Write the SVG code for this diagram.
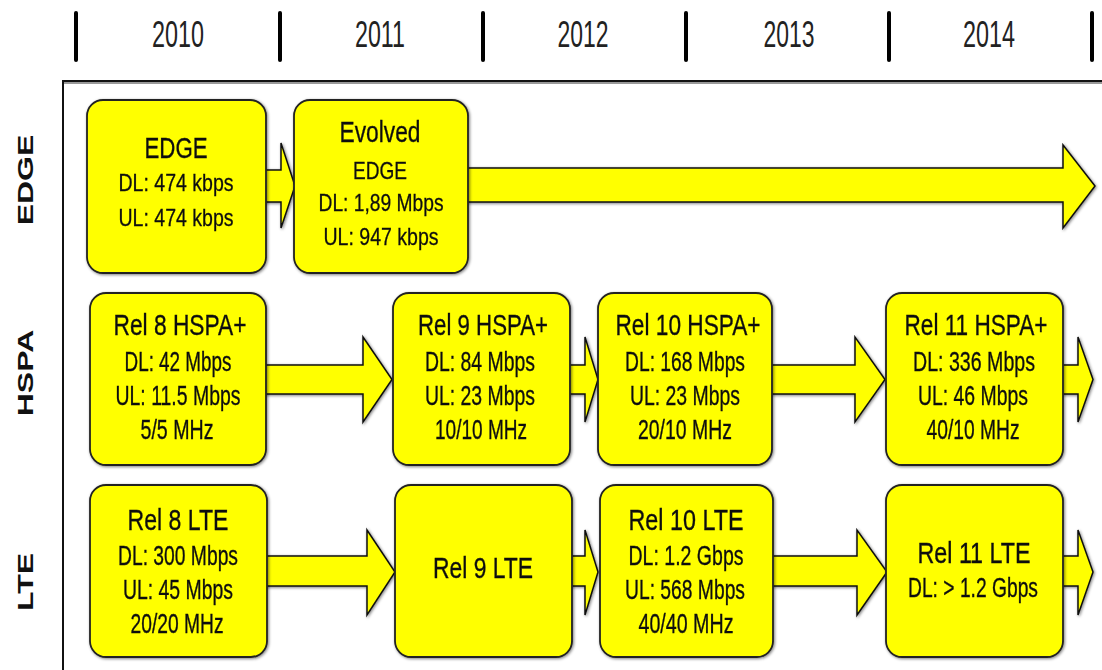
<svg xmlns="http://www.w3.org/2000/svg" width="1102" height="670" viewBox="0 0 1102 670">
<style>
.yr{font-family:"Liberation Sans",Arial,sans-serif;font-size:37px;fill:#222;text-anchor:middle}
.row{font-family:"Liberation Sans",Arial,sans-serif;font-size:32px;font-weight:bold;fill:#111;text-anchor:middle}
.tt{font-family:"Liberation Sans",Arial,sans-serif;font-size:30px;fill:#111;stroke:#111;stroke-width:0.35;text-anchor:middle}
.td{font-family:"Liberation Sans",Arial,sans-serif;font-size:27px;fill:#111;stroke:#111;stroke-width:0.35;text-anchor:middle}
.te{font-family:"Liberation Sans",Arial,sans-serif;font-size:24px;fill:#111;stroke:#111;stroke-width:0.3;text-anchor:middle}
.box{fill:#ffff00;stroke:#222;stroke-width:1.8}
.arr{fill:#ffff00;stroke:#111;stroke-width:1.5;stroke-linejoin:miter}
.tick{stroke:#000;stroke-width:4;stroke-linecap:round}
</style>
<defs>
<filter id="sh" x="-10%" y="-10%" width="120%" height="120%">
<feGaussianBlur in="SourceAlpha" stdDeviation="1.5"/>
<feOffset dx="1" dy="1" result="b"/>
<feComponentTransfer><feFuncA type="linear" slope="0.5"/></feComponentTransfer>
<feMerge><feMergeNode/><feMergeNode in="SourceGraphic"/></feMerge>
</filter>
</defs>
<rect width="1102" height="670" fill="#fff"/>
<g id="timeline">
<line class="tick" x1="76" y1="13" x2="76" y2="60"/>
<line class="tick" x1="280" y1="13" x2="280" y2="60"/>
<line class="tick" x1="483" y1="13" x2="483" y2="60"/>
<line class="tick" x1="686" y1="13" x2="686" y2="60"/>
<line class="tick" x1="889" y1="13" x2="889" y2="60"/>
<line class="tick" x1="1092" y1="13" x2="1092" y2="60"/>
<text class="yr" x="178" y="47" textLength="52" lengthAdjust="spacingAndGlyphs">2010</text>
<text class="yr" x="380" y="47" textLength="50" lengthAdjust="spacingAndGlyphs">2011</text>
<text class="yr" x="583" y="47" textLength="51" lengthAdjust="spacingAndGlyphs">2012</text>
<text class="yr" x="789" y="47" textLength="51" lengthAdjust="spacingAndGlyphs">2013</text>
<text class="yr" x="989" y="47" textLength="52" lengthAdjust="spacingAndGlyphs">2014</text>
</g>
<g id="frame">
<line x1="62" y1="83" x2="1102" y2="83" stroke="#999" stroke-width="2"/>
<line x1="62" y1="81" x2="1102" y2="81" stroke="#111" stroke-width="2"/>
<line x1="63" y1="80" x2="63" y2="670" stroke="#111" stroke-width="2"/>
</g>
<g id="row-labels">
<text class="row" transform="translate(33,180) scale(0.7,1) rotate(-90)">EDGE</text>
<text class="row" transform="translate(33,373) scale(0.7,1) rotate(-90)">HSPA</text>
<text class="row" transform="translate(33,582) scale(0.7,1) rotate(-90)">LTE</text>
</g>
<g id="connectors" filter="url(#sh)">
<polygon class="arr" points="262,170 281,170 281,143 295,186 281,228 281,202 262,202"/>
<polygon class="arr" points="464,168 1063,168 1063,145 1095,186 1063,228 1063,202 464,202"/>
<polygon class="arr" points="262,365 363,365 363,337 392,379.5 363,422 363,394 262,394"/>
<polygon class="arr" points="566,365 585,365 585,337 598,379.5 585,422 585,394 566,394"/>
<polygon class="arr" points="768,365 855,365 855,337 885,379.5 855,422 855,394 768,394"/>
<polygon class="arr" points="1059,365 1078,365 1078,337 1093,379.5 1078,422 1078,394 1059,394"/>
<polygon class="arr" points="263,556 367,556 367,530 395,572 367,615 367,586 263,586"/>
<polygon class="arr" points="568,556 585,556 585,530 598,572 585,615 585,586 568,586"/>
<polygon class="arr" points="769,556 857,556 857,530 887,572 857,615 857,586 769,586"/>
<polygon class="arr" points="1059,556 1078,556 1078,530 1093,572 1078,615 1078,586 1059,586"/>
</g>
<g id="edge" filter="url(#sh)">
<rect class="box" x="87" y="100" width="179" height="173" rx="16"/>
<text class="tt" x="176" y="158" textLength="63" lengthAdjust="spacingAndGlyphs">EDGE</text>
<text class="te" x="176" y="191" textLength="115" lengthAdjust="spacingAndGlyphs">DL: 474 kbps</text>
<text class="te" x="176" y="226" textLength="115" lengthAdjust="spacingAndGlyphs">UL: 474 kbps</text>
</g>
<g id="evolved-edge" filter="url(#sh)">
<rect class="box" x="294" y="100" width="174" height="173" rx="16"/>
<text class="tt" x="380" y="142" textLength="81" lengthAdjust="spacingAndGlyphs">Evolved</text>
<text class="te" x="380" y="179" textLength="54" lengthAdjust="spacingAndGlyphs">EDGE</text>
<text class="te" x="381" y="211" textLength="125" lengthAdjust="spacingAndGlyphs">DL: 1,89 Mbps</text>
<text class="te" x="381" y="245" textLength="115" lengthAdjust="spacingAndGlyphs">UL: 947 kbps</text>
</g>
<g id="rel8-hspa" filter="url(#sh)">
<rect class="box" x="90" y="293" width="176" height="172" rx="16"/>
<text class="tt" x="180" y="335" textLength="133" lengthAdjust="spacingAndGlyphs">Rel 8 HSPA+</text>
<text class="td" x="178" y="371" textLength="107" lengthAdjust="spacingAndGlyphs">DL: 42 Mbps</text>
<text class="td" x="178" y="405" textLength="125" lengthAdjust="spacingAndGlyphs">UL: 11.5 Mbps</text>
<text class="td" x="177" y="439" textLength="73" lengthAdjust="spacingAndGlyphs">5/5 MHz</text>
</g>
<g id="rel9-hspa" filter="url(#sh)">
<rect class="box" x="393" y="293" width="177" height="172" rx="16"/>
<text class="tt" x="483" y="335" textLength="130" lengthAdjust="spacingAndGlyphs">Rel 9 HSPA+</text>
<text class="td" x="480" y="371" textLength="110" lengthAdjust="spacingAndGlyphs">DL: 84 Mbps</text>
<text class="td" x="480" y="405" textLength="110" lengthAdjust="spacingAndGlyphs">UL: 23 Mbps</text>
<text class="td" x="481" y="439" textLength="92" lengthAdjust="spacingAndGlyphs">10/10 MHz</text>
</g>
<g id="rel10-hspa" filter="url(#sh)">
<rect class="box" x="598" y="293" width="174" height="172" rx="16"/>
<text class="tt" x="688" y="335" textLength="145" lengthAdjust="spacingAndGlyphs">Rel 10 HSPA+</text>
<text class="td" x="685" y="371" textLength="120" lengthAdjust="spacingAndGlyphs">DL: 168 Mbps</text>
<text class="td" x="685" y="405" textLength="110" lengthAdjust="spacingAndGlyphs">UL: 23 Mbps</text>
<text class="td" x="685" y="439" textLength="94" lengthAdjust="spacingAndGlyphs">20/10 MHz</text>
</g>
<g id="rel11-hspa" filter="url(#sh)">
<rect class="box" x="886" y="293" width="177" height="172" rx="16"/>
<text class="tt" x="976" y="335" textLength="143" lengthAdjust="spacingAndGlyphs">Rel 11 HSPA+</text>
<text class="td" x="974" y="371" textLength="122" lengthAdjust="spacingAndGlyphs">DL: 336 Mbps</text>
<text class="td" x="973" y="405" textLength="110" lengthAdjust="spacingAndGlyphs">UL: 46 Mbps</text>
<text class="td" x="973" y="439" textLength="93" lengthAdjust="spacingAndGlyphs">40/10 MHz</text>
</g>
<g id="rel8-lte" filter="url(#sh)">
<rect class="box" x="90" y="485" width="177" height="172" rx="16"/>
<text class="tt" x="178" y="530" textLength="101" lengthAdjust="spacingAndGlyphs">Rel 8 LTE</text>
<text class="td" x="178" y="565" textLength="120" lengthAdjust="spacingAndGlyphs">DL: 300 Mbps</text>
<text class="td" x="178" y="599" textLength="110" lengthAdjust="spacingAndGlyphs">UL: 45 Mbps</text>
<text class="td" x="177" y="633" textLength="93" lengthAdjust="spacingAndGlyphs">20/20 MHz</text>
</g>
<g id="rel9-lte" filter="url(#sh)">
<rect class="box" x="395" y="485" width="177" height="172" rx="16"/>
<text class="tt" x="483" y="578" textLength="100" lengthAdjust="spacingAndGlyphs">Rel 9 LTE</text>
</g>
<g id="rel10-lte" filter="url(#sh)">
<rect class="box" x="600" y="485" width="173" height="172" rx="16"/>
<text class="tt" x="686" y="530" textLength="115" lengthAdjust="spacingAndGlyphs">Rel 10 LTE</text>
<text class="td" x="686" y="565" textLength="115" lengthAdjust="spacingAndGlyphs">DL: 1.2 Gbps</text>
<text class="td" x="685" y="599" textLength="120" lengthAdjust="spacingAndGlyphs">UL: 568 Mbps</text>
<text class="td" x="686" y="633" textLength="95" lengthAdjust="spacingAndGlyphs">40/40 MHz</text>
</g>
<g id="rel11-lte" filter="url(#sh)">
<rect class="box" x="886" y="485" width="177" height="172" rx="16"/>
<text class="tt" x="974" y="563" textLength="113" lengthAdjust="spacingAndGlyphs">Rel 11 LTE</text>
<text class="td" x="973" y="597" textLength="130" lengthAdjust="spacingAndGlyphs">DL: &gt; 1.2 Gbps</text>
</g>
</svg>
